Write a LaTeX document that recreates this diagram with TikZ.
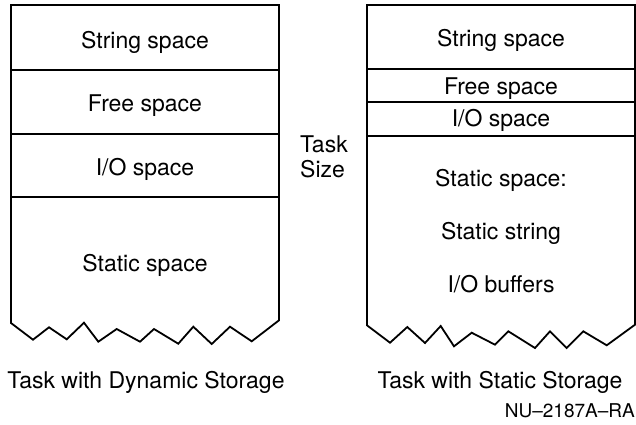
\documentclass[tikz,border=0pt]{standalone}
\usepackage{fontspec}
\setmainfont{TeX Gyre Heros}
\usepackage{tikz}
\tikzstyle{memtext} = [anchor=base, inner sep=0pt, font=\fontsize{23}{24.7}\selectfont]
\tikzstyle{figid} = [anchor=base east, inner sep=0pt, font=\fontsize{19}{22}\selectfont]
\tikzstyle{outline} = [line width=1.8pt, line join=miter]

\begin{document}
\begin{tikzpicture}[x=1pt, y=-1pt]
\useasboundingbox (0,0) rectangle (636,424);

% Dynamic storage
\draw [outline] (11,5) rectangle (279,197);
\draw [outline] (11,70) -- (279,70);
\draw [outline] (11,134) -- (279,134);
\draw [outline] (11,197) -- (11,323) -- (33,339.7) -- (49,327.3) -- (66.7,339.3) -- (84,322.7)
  -- (98.3,341.7) -- (116.7,329) -- (140,341.7) -- (154,329) -- (178.3,343.7) -- (193.3,326.7)
  -- (211.7,344) -- (230,326.7) -- (251.7,341.3) -- (279,320.3) -- (279,197);

% Static storage
\draw [outline] (367,5) rectangle (635,136);
\draw [outline] (367,69) -- (635,69);
\draw [outline] (367,101.7) -- (635,101.7);
\draw [outline] (367,136) -- (367,325.3) -- (390,342.7) -- (407.3,327) -- (425,343) -- (440.7,326)
  -- (454,346.3) -- (471.7,332.7) -- (495,344.7) -- (508.3,331.3) -- (535,348) -- (550,331.3)
  -- (566.7,348) -- (583.3,331.3) -- (606.7,345.3) -- (635,324.7) -- (635,136);

% Nodes
\node (dstring) [memtext] at (145,48.3) {String space};
\node (dfree) [memtext] at (145,111.7) {Free space};
\node (dio) [memtext] at (145,175) {I/O space};
\node (dstatic) [memtext] at (145,271) {Static space};
\node (dcaption) [memtext] at (146,388.7) {Task with Dynamic Storage};

\node (sstring) [memtext] at (501,46.7) {String space};
\node (sfree) [memtext] at (501,94.3) {Free space};
\node (sio) [memtext] at (501,126.7) {I/O space};
\node (sstatic) [memtext] at (501,186.7) {Static space:};
\node (sstr) [memtext] at (501,239.3) {Static string};
\node (sbuf) [memtext] at (501,292) {I/O buffers};
\node (scaption) [memtext] at (500,388) {Task with Static Storage};

\node (tasksize) [memtext, anchor=north west, align=left] at (300,135.6) {Task\\Size};
\node (figno) [figid] at (635,417) {NU--2187A--RA};

\end{tikzpicture}
\end{document}
